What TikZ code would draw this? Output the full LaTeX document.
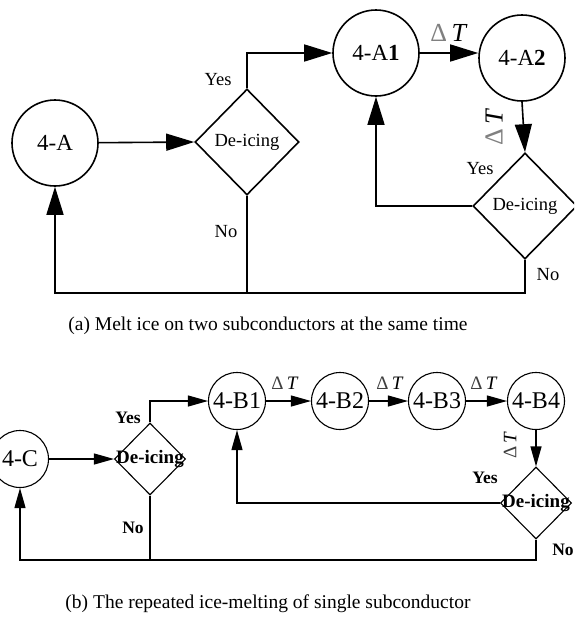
\documentclass[tikz,border=0pt]{standalone}
\usepackage{fontspec}
\setmainfont{Liberation Serif}
\usetikzlibrary{shapes.geometric,arrows.meta}

\tikzset{
  % part (a): heavy strokes
  lineA/.style={line width=1.6pt},
  arrA/.style={lineA, -{Triangle[length=28pt,width=17pt]}},
  stateA/.style={circle, draw, lineA, minimum size=86pt, inner sep=0pt, font=\fontsize{23}{26}\selectfont},
  decA/.style={diamond, draw, lineA, minimum width=104pt, minimum height=106pt, inner sep=0pt},
  txtA/.style={font=\fontsize{18.5}{21}\selectfont, inner sep=0pt},
  dtA/.style={font=\fontsize{26}{28}\selectfont, inner sep=0pt},
  % part (b): thin strokes
  lineB/.style={line width=1.1pt},
  arrB/.style={lineB, -{Triangle[length=20pt,width=11pt]}},
  stateB/.style={circle, draw, lineB, minimum size=57pt, inner sep=0pt, font=\fontsize{24}{26}\selectfont},
  decB/.style={diamond, draw, lineB, minimum width=71pt, minimum height=72pt, inner sep=0pt},
  txtB/.style={font=\bfseries\fontsize{17.5}{19}\selectfont, inner sep=0pt},
  decBtxt/.style={font=\bfseries\fontsize{19}{21}\selectfont, inner sep=0pt},
  dtB/.style={font=\fontsize{19}{21}\selectfont, inner sep=0pt},
  caption/.style={font=\fontsize{19.5}{22}\selectfont, inner sep=0pt}
}
% temperature-step label: grey Delta, italic T
\newcommand{\dT}{\textcolor{gray}{Δ}\,\textit{T}}
\newcommand{\dTdark}{\textcolor{black!75}{Δ}\,\textit{T}}

\begin{document}
\begin{tikzpicture}[x=1pt,y=-1pt]
\clip (0,0) rectangle (574,622);
\fill[white] (0,0) rectangle (574,622);

% ---------------- (a) two subconductors together ----------------
\node[stateA] (A)  at (55,143) {4-A};
\node[decA]   (d1) at (247,142) {};
\node[txtA]        at (d1) {De-icing};
\node[stateA] (A1) at (376,53) {4-A\textbf{1}};
\node[stateA] (A2) at (522,58) {4-A\textbf{2}};
\node[decA]   (d2) at (525,206) {};
\node[txtA]        at (d2) {De-icing};
\coordinate (lowA) at (55,293);

\draw[arrA] (A) -- (d1.west);
\draw[arrA] (d1.north) |- (A1.west);
\draw[arrA] (A1.east) -- (A1.east -| A2.west);
\draw[arrA] (A2.south) -- (d2.north);
\draw[arrA] (d2.west) -| (A1.south);
\draw[arrA] (d2.south) |- (lowA) -- (A.south);
\draw[lineA] (d1.south) -- (d1.south |- lowA);

\node[txtA] (yesA1) at (218,80) {Yes};
\node[txtA] (noA1)  at (226,232) {No};
\node[txtA] (yesA2) at (480,169) {Yes};
\node[txtA] (noA2)  at (548,275) {No};
\node[dtA] (dtA1) at (449,33) {\dT};
\node[dtA, rotate=90] (dtA2) at (494,127) {\dT};

\node[caption] (capA) at (268,326) {(a) Melt ice on two subconductors at the same time};

% ---------------- (b) one subconductor after another ----------------
\node[stateB] (C)  at (20,459) {4-C};
\node[decB]   (e1) at (150,459) {};
\node[decBtxt]     at (e1) {De-icing};
\node[stateB] (B1) at (237,401) {4-B1};
\node[stateB] (B2) at (340,401) {4-B2};
\node[stateB] (B3) at (437,401) {4-B3};
\node[stateB] (B4) at (536,401) {4-B4};
\node[decB]   (e2) at (536,503) {};
\node[decBtxt]     at (e2) {De-icing};
\coordinate (lowB) at (20,560);

\draw[arrB] (C) -- (e1.west);
\draw[arrB] (e1.north) |- (B1.west);
\draw[arrB] (B1) -- (B2);
\draw[arrB] (B2) -- (B3);
\draw[arrB] (B3) -- (B4);
\draw[arrB] (B4.south) -- (e2.north);
\draw[arrB] (e2.west) -| (B1.south);
\draw[arrB] (e2.south) |- (lowB) -- (C.south);
\draw[lineB] (e1.south) -- (e1.south |- lowB);

\node[txtB] (yesB1) at (128,418) {Yes};
\node[txtB] (noB1)  at (133,528) {No};
\node[txtB] (yesB2) at (485,478) {Yes};
\node[txtB] (noB2)  at (563,550) {No};
\node[dtB] (dtB1) at (285,383) {\dTdark};
\node[dtB] (dtB2) at (390,383) {\dTdark};
\node[dtB] (dtB3) at (484,383) {\dTdark};
\node[dtB, rotate=90] (dtB4) at (510,445) {\dTdark};

\node[caption] (capB) at (268,604) {(b) The repeated ice-melting of single subconductor};
\end{tikzpicture}
\end{document}
